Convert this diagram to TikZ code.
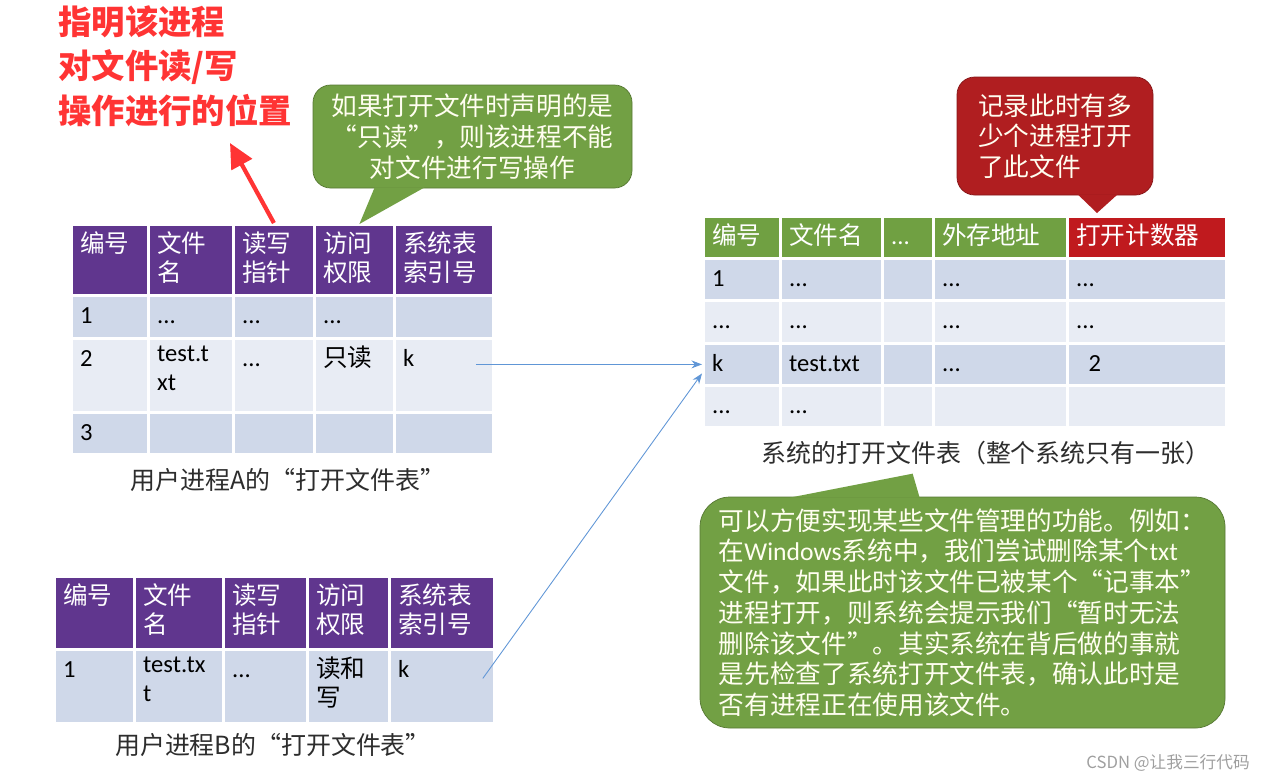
\documentclass[tikz,border=0pt]{standalone}
\usepackage{fontspec}
\setmainfont{Noto Sans CJK SC}
\newfontfamily\cjk{Noto Sans CJK SC}
\newfontfamily\latfont{Carlito}
\usepackage{xcolor}
\usetikzlibrary{positioning, arrows.meta, calc}

\definecolor{hdpurple}{RGB}{96,54,142}
\definecolor{hdgreen}{RGB}{112,160,66}
\definecolor{hdred}{RGB}{192,26,30}
\definecolor{rowdark}{RGB}{207,216,233}
\definecolor{rowlight}{RGB}{232,236,244}
\definecolor{notegreen}{RGB}{114,160,68}
\definecolor{notered}{RGB}{176,30,32}
\definecolor{linkblue}{RGB}{96,150,214}
\definecolor{markred}{RGB}{255,52,52}
\definecolor{capgray}{RGB}{45,45,45}

\def\px{0.02cm}
\newcommand{\tdots}{...}

\tikzset{
  cellbox/.style={draw=white, line width=1.6pt, anchor=north west, inner sep=0pt},
  celltxt/.style={anchor=north west, align=left, inner xsep=5.6pt, inner ysep=4.8pt,
    execute at begin node=\strut, font=\latfont\fontsize{14}{16.5}\selectfont},
  hdtxt/.style={celltxt, text=white, font=\cjk\fontsize{14}{16.5}\selectfont},
  note/.style={draw=#1!75!black, fill=#1, line width=0.4pt, inner sep=0pt,
    text=white!94!yellow, font=\cjk\fontsize{14.6}{17.5}\selectfont},
  caption/.style={text=capgray, font=\cjk\fontsize{14.2}{17}\selectfont},
  link/.style={draw=linkblue, line width=0.5pt, -{Stealth[length=6pt, width=4.5pt]}},
  markarrow/.style={draw=markred, line width=2.4pt, -{Triangle[length=14pt, width=13pt]}},
}

\begin{document}
\begin{tikzpicture}[x=\px, y=-\px]
  \useasboundingbox (0,0) rectangle (1270,782);

  % ── 用户进程A的打开文件表 ──
  \foreach \c/\xa/\xb/\txt in {1/70/147/编号, 2/147/232/{文件\\名}, 3/232/313/{读写\\指针},
      4/313/393/{访问\\权限}, 5/393/492/{系统表\\索引号}} {
    \node[cellbox, fill=hdpurple, minimum width={(\xb-\xa)*\px}, minimum height={71*\px}]
      (a-0-\c) at (\xa,223) {};
    \node[hdtxt] (a-0-\c-t) at (a-0-\c.north west) {\txt};
    \foreach \r/\ya/\yb/\rc in {1/294/337/rowdark, 2/337/411/rowlight, 3/411/453/rowdark} {
      \node[cellbox, fill=\rc, minimum width={(\xb-\xa)*\px}, minimum height={(\yb-\ya)*\px}]
        (a-\r-\c) at (\xa,\ya) {};
    }
  }
  \foreach \r/\c/\txt in {1/1/1, 1/2/\tdots, 1/3/\tdots, 1/4/\tdots, 2/1/2, 2/2/{test.t\\xt},
      2/3/\tdots, 2/4/{\cjk 只读}, 2/5/k, 3/1/3} {
    \node[celltxt] (a-\r-\c-t) at (a-\r-\c.north west) {\txt};
  }
  \node[caption] (cap-a) at (288,480) {用户进程A的“打开文件表”};

  % ── 用户进程B的打开文件表 ──
  \foreach \c/\xa/\xb/\txt in {1/53/133/编号, 2/133/222/{文件\\名}, 3/222/306/{读写\\指针},
      4/306/388/{访问\\权限}, 5/388/493/{系统表\\索引号}} {
    \node[cellbox, fill=hdpurple, minimum width={(\xb-\xa)*\px}, minimum height={73*\px}]
      (b-0-\c) at (\xa,575) {};
    \node[hdtxt] (b-0-\c-t) at (b-0-\c.north west) {\txt};
    \node[cellbox, fill=rowdark, minimum width={(\xb-\xa)*\px}, minimum height={74*\px}]
      (b-1-\c) at (\xa,648) {};
  }
  \foreach \c/\txt in {1/1, 2/{test.tx\\t}, 3/\tdots, 4/{\cjk 读和\\\cjk 写}, 5/k} {
    \node[celltxt] (b-1-\c-t) at (b-1-\c.north west) {\txt};
  }
  \node[caption] (cap-b) at (273,745) {用户进程B的“打开文件表”};

  % ── 系统的打开文件表 ──
  \foreach \c/\xa/\xb/\col/\txt in {1/702/779/hdgreen/编号, 2/779/881/hdgreen/文件名,
      3/881/932/hdgreen/{\latfont\tdots}, 4/932/1066/hdgreen/外存地址,
      5/1066/1225/hdred/打开计数器} {
    \node[cellbox, fill=\col, minimum width={(\xb-\xa)*\px}, minimum height={42*\px}]
      (s-0-\c) at (\xa,215) {};
    \node[hdtxt] (s-0-\c-t) at (s-0-\c.north west) {\txt};
    \foreach \r/\ya/\yb/\rc in {1/257/299/rowdark, 2/299/342/rowlight,
        3/342/384/rowdark, 4/384/426/rowlight} {
      \node[cellbox, fill=\rc, minimum width={(\xb-\xa)*\px}, minimum height={(\yb-\ya)*\px}]
        (s-\r-\c) at (\xa,\ya) {};
    }
  }
  \foreach \r/\c/\txt in {1/1/1, 1/2/\tdots, 1/4/\tdots, 1/5/\tdots,
      2/1/\tdots, 2/2/\tdots, 2/4/\tdots, 2/5/\tdots,
      3/1/k, 3/2/test.txt, 3/4/\tdots, 3/5/{\enspace 2}, 4/1/\tdots, 4/2/\tdots} {
    \node[celltxt] (s-\r-\c-t) at (s-\r-\c.north west) {\txt};
  }
  \node[caption] (cap-s) at (986,453) {系统的打开文件表（整个系统只有一张）};

  % ── 说明框 ──
  \node[anchor=north west, align=left, inner sep=0pt, text=markred,
    font=\cjk\bfseries\fontsize{19}{25.5}\selectfont] (pos-note) at (58,5)
    {指明该进程\\对文件读/写\\操作进行的位置};
  \coordinate (pos-tip) at (230,143);
  \draw[markarrow] (a-0-3.north) -- (pos-tip);

  \node[note=notegreen, rounded corners=10pt, minimum width={319*\px},
    minimum height={103*\px}, align=center] (ro-note) at (472.5,136.5)
    {如果打开文件时声明的是\\“只读”，则该进程不能\\对文件进行写操作};
  \fill[notegreen] ($(ro-note.south west)+(62,-1)$) -- ($(ro-note.south west)+(112,-1)$)
    -- ($(a-0-4.north)+(5,1)$) -- cycle;

  \node[note=notered, rounded corners=10pt, minimum width={196*\px},
    minimum height={118*\px}, align=left] (cnt-note) at (1055,136)
    {记录此时有多\\少个进程打开\\了此文件};
  \fill[notered] ($(cnt-note.south west)+(121,-1)$) -- ($(cnt-note.south west)+(161,-1)$)
    -- ($(s-0-5.north west)+(31,-2)$) -- cycle;

  \node[note=notegreen, rounded corners=17pt, minimum width={525*\px},
    minimum height={231*\px}, align=left] (sys-note) at (962.5,612.5)
    {可以方便实现某些文件管理的功能。例如：\\
     在{\latfont Windows}系统中，我们尝试删除某个{\latfont txt}\\
     文件，如果此时该文件已被某个“记事本”\\
     进程打开，则系统会提示我们“暂时无法\\
     删除该文件”。其实系统在背后做的事就\\
     是先检查了系统打开文件表，确认此时是\\
     否有进程正在使用该文件。};
  \fill[notegreen] ($(sys-note.north west)+(90,1)$) -- ($(sys-note.north west)+(220,1)$)
    -- ($(sys-note.north west)+(213,-23)$) -- cycle;

  % ── 表项指向系统表 ──
  \draw[link] ($(a-2-5.east |- s-3-1.west)+(-19,0)$) -- (s-3-1.west);
  \draw[link] ($(b-1-5.east)+(-13,-8)$) -- ($(s-3-1.west)+(0,9)$);

  \node[anchor=east, text=gray!75, font=\fontsize{9.5}{11}\selectfont] (csdn-mark)
    at (1256,763) {CSDN @让我三行代码};
\end{tikzpicture}
\end{document}
